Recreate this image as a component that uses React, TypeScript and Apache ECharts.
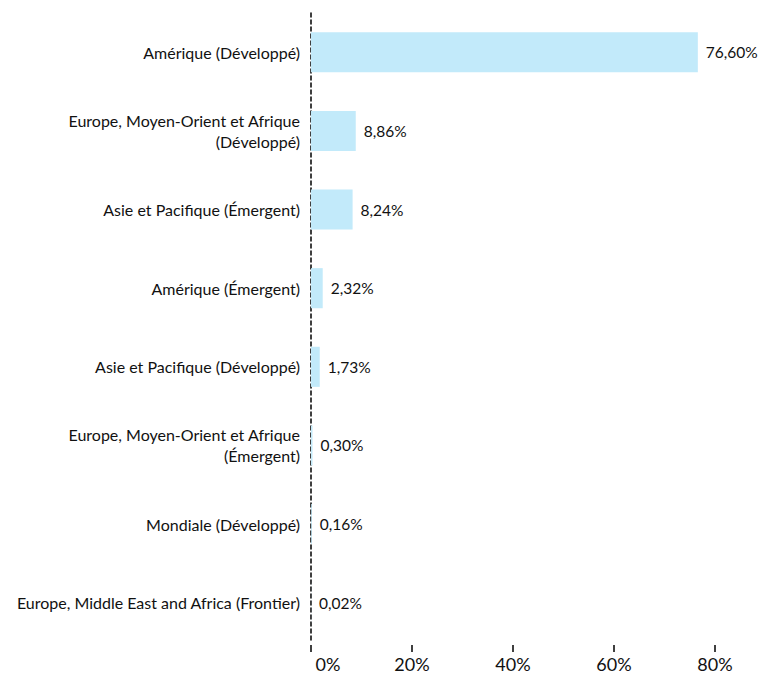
import React, { useEffect, useRef } from "react";
import * as echarts from "echarts";

const categories = [
  "Amérique (Développé)",
  "Europe, Moyen-Orient et Afrique\n(Développé)",
  "Asie et Pacifique (Émergent)",
  "Amérique (Émergent)",
  "Asie et Pacifique (Développé)",
  "Europe, Moyen-Orient et Afrique\n(Émergent)",
  "Mondiale (Développé)",
  "Europe, Middle East and Africa (Frontier)",
];
const values = [76.6, 8.86, 8.24, 2.32, 1.73, 0.3, 0.16, 0.02];
const xTicks = [0, 20, 40, 60, 80];

const FONT = "Lato, 'Open Sans', sans-serif";

export default function App() {
  const ref = useRef<HTMLDivElement>(null);
  useEffect(() => {
    document.body.style.margin = "0";
    if (!ref.current) return;
    const chart = echarts.init(ref.current, null, { renderer: "svg" });
    chart.setOption({
      animation: false,
      textStyle: { fontFamily: FONT },
      grid: { left: 311, right: 43, top: 13, bottom: 35, containLabel: false },
      xAxis: {
        type: "value",
        min: xTicks[0],
        max: xTicks[xTicks.length - 1],
        interval: 20,
        offset: 3,
        splitLine: { show: false },
        axisLine: { show: false },
        axisTick: { show: true, length: 7, lineStyle: { color: "#000", width: 1.5 } },
        axisLabel: {
          margin: 10,
          fontSize: 18,
          color: "#111",
          fontFamily: FONT,
          formatter: (v: number) => (v === 0 ? "{z|0%}" : v + "%"),
          rich: { z: { fontSize: 18, color: "#111", fontFamily: FONT, padding: [0, 0, 0, 34] } },
        },
      },
      yAxis: {
        type: "category",
        data: categories,
        inverse: true,
        axisLine: { show: true, lineStyle: { color: "#000", type: [4, 3], width: 1.5 } },
        axisTick: { show: false },
        axisLabel: {
          margin: 11,
          fontSize: 16,
          lineHeight: 21,
          color: "#111",
          fontFamily: FONT,
        },
      },
      series: [
        {
          type: "bar",
          data: values,
          barCategoryGap: "49%",
          itemStyle: { color: "#c2eafa" },
          label: {
            show: true,
            position: "right",
            distance: 8,
            fontSize: 15.5,
            color: "#111",
            fontFamily: FONT,
            formatter: (p: any) => p.value.toFixed(2).replace(".", ",") + "%",
          },
        },
      ],
    });
    return () => chart.dispose();
  }, []);
  return <div ref={ref} style={{ width: 758, height: 677 }} />;
}
